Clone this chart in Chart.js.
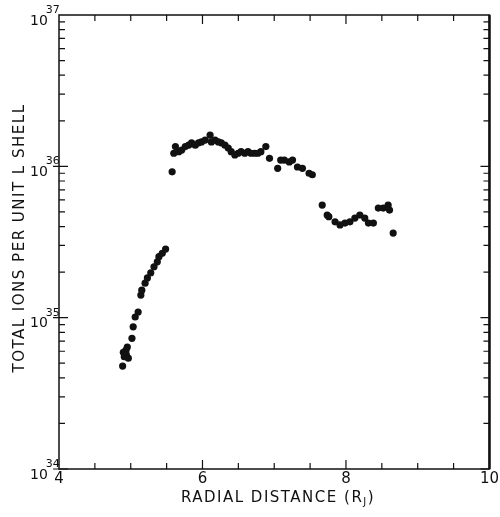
<!DOCTYPE html>
<html lang="en">
<head>
    <meta charset="UTF-8">
    <title>Total Ions per Unit L Shell</title>
    <script src="https://cdn.jsdelivr.net/npm/chart.js"></script>
    <style>
        html, body { margin: 0; padding: 0; background: #fff; }
        #wrap { width: 500px; height: 517px; position: relative; }
    </style>
</head>
<body>
    <div id="wrap"><canvas id="ionsChart"></canvas></div>

    <script>
        // Radial distance (R_J) and total ions per unit L shell
        const radialDistance = [
            4.887, 4.897, 4.910, 4.934, 4.938, 4.952, 4.966, 5.017, 5.034, 5.062,
            5.103, 5.141, 5.154, 5.200, 5.232, 5.279, 5.324, 5.370, 5.393, 5.439,
            5.486,
            5.577, 5.600, 5.623, 5.669, 5.710, 5.761, 5.807, 5.848, 5.899, 5.945,
            5.986, 6.037, 6.106, 6.124, 6.175, 6.221, 6.262, 6.313, 6.359, 6.400,
            6.451, 6.497, 6.538, 6.589, 6.634, 6.676, 6.727, 6.772, 6.814, 6.883,
            6.934, 7.048, 7.090, 7.141, 7.210, 7.255, 7.324, 7.393, 7.486, 7.531,
            7.669, 7.738, 7.761, 7.848, 7.917, 7.986, 8.055, 8.124, 8.193, 8.262,
            8.313, 8.382, 8.451, 8.520, 8.588, 8.607, 8.658
        ];
        const totalIons = [
            4.79e34, 5.9e34, 5.52e34, 6.1e34, 5.7e34, 6.4e34, 5.4e34, 7.3e34, 8.7e34, 1.01e35,
            1.09e35, 1.41e35, 1.52e35, 1.69e35, 1.83e35, 1.98e35, 2.17e35, 2.34e35, 2.53e35, 2.66e35,
            2.84e35,
            9.2e35, 1.22e36, 1.35e36, 1.25e36, 1.28e36, 1.35e36, 1.38e36, 1.43e36, 1.38e36, 1.43e36,
            1.45e36, 1.49e36, 1.61e36, 1.45e36, 1.49e36, 1.45e36, 1.43e36, 1.38e36, 1.32e36, 1.25e36,
            1.19e36, 1.22e36, 1.25e36, 1.22e36, 1.25e36, 1.22e36, 1.22e36, 1.22e36, 1.25e36, 1.35e36,
            1.13e36, 9.7e35, 1.10e36, 1.10e36, 1.07e36, 1.10e36, 9.9e35, 9.7e35, 9.0e35, 8.8e35,
            5.55e35, 4.77e35, 4.65e35, 4.3e35, 4.1e35, 4.22e35, 4.3e35, 4.55e35, 4.77e35, 4.55e35,
            4.22e35, 4.22e35, 5.3e35, 5.3e35, 5.55e35, 5.14e35, 3.62e35
        ];
        const xTicks = [4, 6, 8, 10];
        const yTicks = [1e34, 1e35, 1e36, 1e37];
        const yTickExponents = ['34', '35', '36', '37'];

        const points = radialDistance.map((x, i) => ({ x: x, y: totalIons[i] }));

        // Inward tick marks, frame, power-of-ten labels and axis titles
        const framePlugin = {
            id: 'frame',
            afterDraw(chart) {
                const ctx = chart.ctx;
                const a = chart.chartArea;
                const xs = chart.scales.x;
                const ys = chart.scales.y;
                ctx.save();
                ctx.strokeStyle = '#111';
                ctx.lineWidth = 1.5;
                ctx.strokeRect(a.left, a.top, a.right - a.left, a.bottom - a.top);
                ctx.lineWidth = 2.5;
                ctx.beginPath();
                ctx.moveTo(a.right, a.top);
                ctx.lineTo(a.right, a.bottom);
                ctx.stroke();

                ctx.lineWidth = 1.2;
                ctx.beginPath();
                for (let v = 4.5; v < 10; v += 0.5) {
                    const px = xs.getPixelForValue(v);
                    const len = (v % 2 === 0) ? 9 : 6;
                    ctx.moveTo(px, a.top); ctx.lineTo(px, a.top + len);
                    ctx.moveTo(px, a.bottom); ctx.lineTo(px, a.bottom - len);
                }
                for (let d = 34; d < 37; d++) {
                    for (let m = 1; m <= 9; m++) {
                        const py = ys.getPixelForValue(m * Math.pow(10, d));
                        const len = m === 1 ? 9 : 6;
                        ctx.moveTo(a.left, py); ctx.lineTo(a.left + len, py);
                        ctx.moveTo(a.right, py); ctx.lineTo(a.right - len, py);
                        if (m === 1) { ctx.moveTo(a.left - 6, py); ctx.lineTo(a.left, py); }
                    }
                }
                ctx.stroke();

                ctx.fillStyle = '#111';
                ctx.textBaseline = 'middle';
                ctx.textAlign = 'left';

                // y tick labels: 10 with raised exponent
                yTicks.forEach((v, i) => {
                    const py = ys.getPixelForValue(v);
                    ctx.font = '14px "DejaVu Sans"';
                    const w10 = ctx.measureText('10').width;
                    ctx.fillText('10', 30, py + 6);
                    ctx.font = '11px "DejaVu Sans"';
                    ctx.fillText(yTickExponents[i], 30 + w10 - 2, py - 5);
                });

                // axis titles
                ctx.font = '15px "DejaVu Sans"';
                ctx.letterSpacing = '1.5px';
                const xt = 'RADIAL DISTANCE (R';
                const wMain = ctx.measureText(xt).width;
                ctx.font = '10px "DejaVu Sans"';
                const wSub = ctx.measureText('J').width;
                ctx.font = '15px "DejaVu Sans"';
                const wEnd = ctx.measureText(')').width;
                let x0 = 278 - (wMain + wSub + wEnd) / 2;
                ctx.fillText(xt, x0, 498);
                ctx.font = '10px "DejaVu Sans"';
                ctx.fillText('J', x0 + wMain, 502);
                ctx.font = '15px "DejaVu Sans"';
                ctx.fillText(')', x0 + wMain + wSub, 498);

                ctx.translate(20, 238);
                ctx.rotate(-Math.PI / 2);
                ctx.textAlign = 'center';
                ctx.fillText('TOTAL IONS PER UNIT L SHELL', 0, 0);
                ctx.restore();
            }
        };

        new Chart(document.getElementById('ionsChart'), {
            type: 'scatter',
            data: {
                datasets: [{
                    label: 'Total ions',
                    data: points,
                    backgroundColor: '#111',
                    borderColor: '#111',
                    pointRadius: 3.6,
                    pointHoverRadius: 3.6,
                    borderWidth: 0
                }]
            },
            options: {
                responsive: true,
                maintainAspectRatio: false,
                animation: false,
                layout: { padding: { top: 15, right: 8, left: 0, bottom: 0 } },
                plugins: {
                    legend: { display: false },
                    tooltip: { enabled: false }
                },
                scales: {
                    x: {
                        type: 'linear',
                        min: 4,
                        max: 10,
                        afterBuildTicks: (s) => { s.ticks = xTicks.map(v => ({ value: v })); },
                        afterFit: (s) => { s.height = 48; },
                        grid: { display: false, tickLength: 0 },
                        border: { display: false },
                        ticks: {
                            autoSkip: false,
                            maxRotation: 0,
                            padding: 1,
                            color: '#111',
                            font: { family: 'DejaVu Sans', size: 15 }
                        }
                    },
                    y: {
                        type: 'logarithmic',
                        min: 1e34,
                        max: 1e37,
                        afterBuildTicks: (s) => { s.ticks = yTicks.map(v => ({ value: v })); },
                        afterFit: (s) => { s.width = 59; },
                        grid: { display: false, tickLength: 0 },
                        border: { display: false },
                        ticks: { display: false }
                    }
                }
            },
            plugins: [framePlugin]
        });
    </script>
</body>
</html>
